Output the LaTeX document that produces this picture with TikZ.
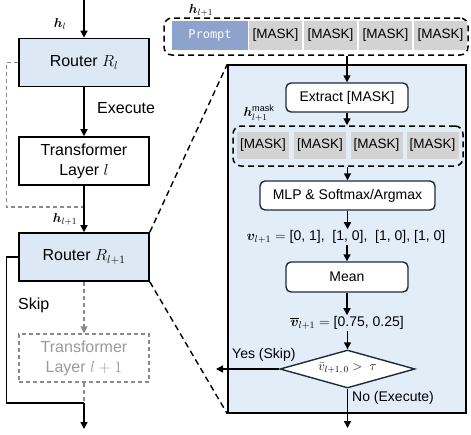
\RequirePackage{fix-cm}
\documentclass[tikz,border=0pt]{standalone}
\usepackage{amsmath}
\usepackage{bm}
\usepackage{fontspec}
\setmainfont{Liberation Sans}
\newfontfamily\promptfont{DejaVu Sans Mono}
\usetikzlibrary{arrows.meta,shapes.geometric}
\definecolor{routerblue}{HTML}{DDE8F5}
\definecolor{panelblue}{HTML}{E3EDF8}
\definecolor{promptblue}{HTML}{8EA3CB}
\definecolor{maskgray}{HTML}{D3D3D3}
\definecolor{darkedge}{HTML}{1B2D3A}
\definecolor{dashgray}{HTML}{8A8A8A}
\definecolor{textgray}{HTML}{9A9A9A}
\tikzset{
  layerbox/.style={draw=black, line width=1.6pt, minimum width=130pt, minimum height=48pt,
    align=center, inner sep=0pt, font=\fontsize{16}{20}\selectfont},
  routerbox/.style={layerbox, fill=routerblue},
  ghostbox/.style={layerbox, draw=dashgray, line width=1.4pt, dash pattern=on 4pt off 3pt, text=textgray},
  stepbox/.style={draw=darkedge, line width=1.4pt, rounded corners=5pt, fill=white,
    inner sep=0pt, font=\fontsize{14}{16}\selectfont},
  maskbox/.style={fill=maskgray, inner sep=0pt, font=\fontsize{13.5}{16}\selectfont},
  grp/.style={draw=black, line width=1.5pt, dash pattern=on 6pt off 4pt, rounded corners=8pt, inner sep=0pt},
  arr/.style={-{Triangle[length=7pt,width=7pt]}, line width=1.4pt},
  plain/.style={line width=1.4pt},
  gline/.style={draw=dashgray, line width=1.4pt, dash pattern=on 4pt off 3pt},
  zoomline/.style={line width=1.4pt, dash pattern=on 6pt off 4pt},
  lbl/.style={inner sep=0pt, font=\fontsize{16}{19}\selectfont},
  mlbl/.style={inner sep=0pt, font=\fontsize{13}{15}\selectfont},
  ilbl/.style={inner sep=1pt, font=\fontsize{14}{16}\selectfont},
}
\begin{document}
\begin{tikzpicture}[x=1pt, y=-1pt]
\useasboundingbox (0,0) rectangle (471,434);

% ---------- right panel background ----------
\node[draw=black, line width=1.5pt, fill=panelblue, minimum width=238pt, minimum height=348pt, inner sep=0pt] (panel) at (347,239) {};

% ---------- left column ----------
\coordinate (top) at (84,0);
\node[routerbox] (rl) at (84,62.5) {Router $R_l$};
\node[layerbox] (tl) at (84,161) {Transformer\\Layer $l$};
\node[routerbox] (rl1) at (84,257) {Router $R_{l+1}$};
\node[ghostbox] (tl1) at (84,358) {Transformer\\Layer $l+1$};
\coordinate (jl) at (84,207);
\coordinate (jb) at (84,403);
\coordinate (bot) at (84,429);

\node[mlbl] (hl) at (60,24) {$\boldsymbol{h}_l$};
\node[mlbl] (hl1) at (65,219) {$\boldsymbol{h}_{l+1}$};
\node[lbl, anchor=west] (exec) at (97,108) {Execute};
\node[lbl, anchor=west] (skip) at (18,305) {Skip};

\draw[arr] (top) -- (rl.north);
\draw[arr] (rl.south) -- (tl.north);
\draw[gline] (rl.west) -- ++(-12,0) |- (jl);
\draw[arr] (tl.south) -- (rl1.north);
\draw[gline, -{Triangle[length=7pt,width=7pt]}] (rl1.south) -- (tl1.north);
\draw[gline] (tl1.south) -- (jb);
\draw[plain] (rl1.west) -- ++(-12,0) |- (jb);
\draw[arr] (jb) -- (bot);

% ---------- zoom lines ----------
\draw[zoomline] (rl1.north east) -- (panel.north west);
\draw[zoomline] (rl1.south east) -- (panel.south west);

% ---------- top token row ----------
\node[grp, minimum width=304pt, minimum height=37pt] (tgrp) at (316,36.5) {};
\node[mlbl] (htop) at (201,10) {$\boldsymbol{h}_{l+1}$};
\node[fill=promptblue, minimum width=76pt, minimum height=29pt, inner sep=0pt, text=white,
  font=\promptfont\fontsize{12}{14}\selectfont] (prompt) at (210,35.5) {Prompt};
\node[maskbox, minimum width=53pt, minimum height=29pt] (m1) at (275.5,35.5) {[MASK]};
\node[maskbox, minimum width=53pt, minimum height=29pt] (m2) at (330.5,35.5) {[MASK]};
\node[maskbox, minimum width=53pt, minimum height=29pt] (m3) at (385.5,35.5) {[MASK]};
\node[maskbox, minimum width=53pt, minimum height=29pt] (m4) at (440.5,35.5) {[MASK]};

% ---------- inside panel ----------
\node[stepbox, minimum width=122pt, minimum height=29pt] (extract) at (347,97.5) {Extract [MASK]};
\node[grp, minimum width=230pt, minimum height=40pt] (mgrp) at (348,146) {};
\node[mlbl] (hmask) at (259,113) {$\boldsymbol{h}_{l+1}^{\mathrm{mask}}$};
\node[maskbox, minimum width=52pt, minimum height=27pt] (k1) at (263,145.5) {[MASK]};
\node[maskbox, minimum width=52pt, minimum height=27pt] (k2) at (320,145.5) {[MASK]};
\node[maskbox, minimum width=52pt, minimum height=27pt] (k3) at (376.5,145.5) {[MASK]};
\node[maskbox, minimum width=52pt, minimum height=27pt] (k4) at (432.5,145.5) {[MASK]};
\node[stepbox, minimum width=175pt, minimum height=29pt] (mlp) at (347.5,195.5) {MLP \& Softmax/Argmax};
\node[ilbl] (vtxt) at (346,237) {$\boldsymbol{v}_{l+1}=$ [0, 1],\ \ [1, 0],\ \ [1, 0], [1, 0]};
\node[stepbox, minimum width=122pt, minimum height=30pt] (mean) at (347,277) {Mean};
\node[ilbl] (vbar) at (347,323) {$\overline{\boldsymbol{v}}_{l+1}=$ [0.75, 0.25]};
\node[draw=darkedge, line width=1.4pt, fill=white, shape=diamond, aspect=3.5, inner sep=0pt,
  minimum width=135pt, minimum height=38pt, font=\fontsize{13}{15}\selectfont] (dec) at (347.5,369) {$\bar{v}_{l+1,\,0} >\ \tau$};
\coordinate (yesend) at (216,369);
\coordinate (noend) at (347.5,428);
\node[ilbl, anchor=south west] (yes) at (231,363) {Yes (Skip)};
\node[ilbl, anchor=west] (no) at (351,398) {No (Execute)};

\draw[arr] (tgrp.south -| extract) -- (extract.north);
\draw[arr] (extract.south) -- (extract.south |- mgrp.north);
\draw[arr] (mgrp.south -| mlp) -- (mlp.north);
\draw[arr] (mlp.south) -- (mlp.south |- vtxt.north);
\draw[arr] (mean.north |- vtxt.south) -- (mean.north);
\draw[arr] (mean.south) -- (mean.south |- vbar.north);
\draw[arr] (dec.north |- vbar.south) -- (dec.north);
\draw[arr] (dec.west) -- (yesend);
\draw[arr] (dec.south) -- (noend);
\end{tikzpicture}
\end{document}
